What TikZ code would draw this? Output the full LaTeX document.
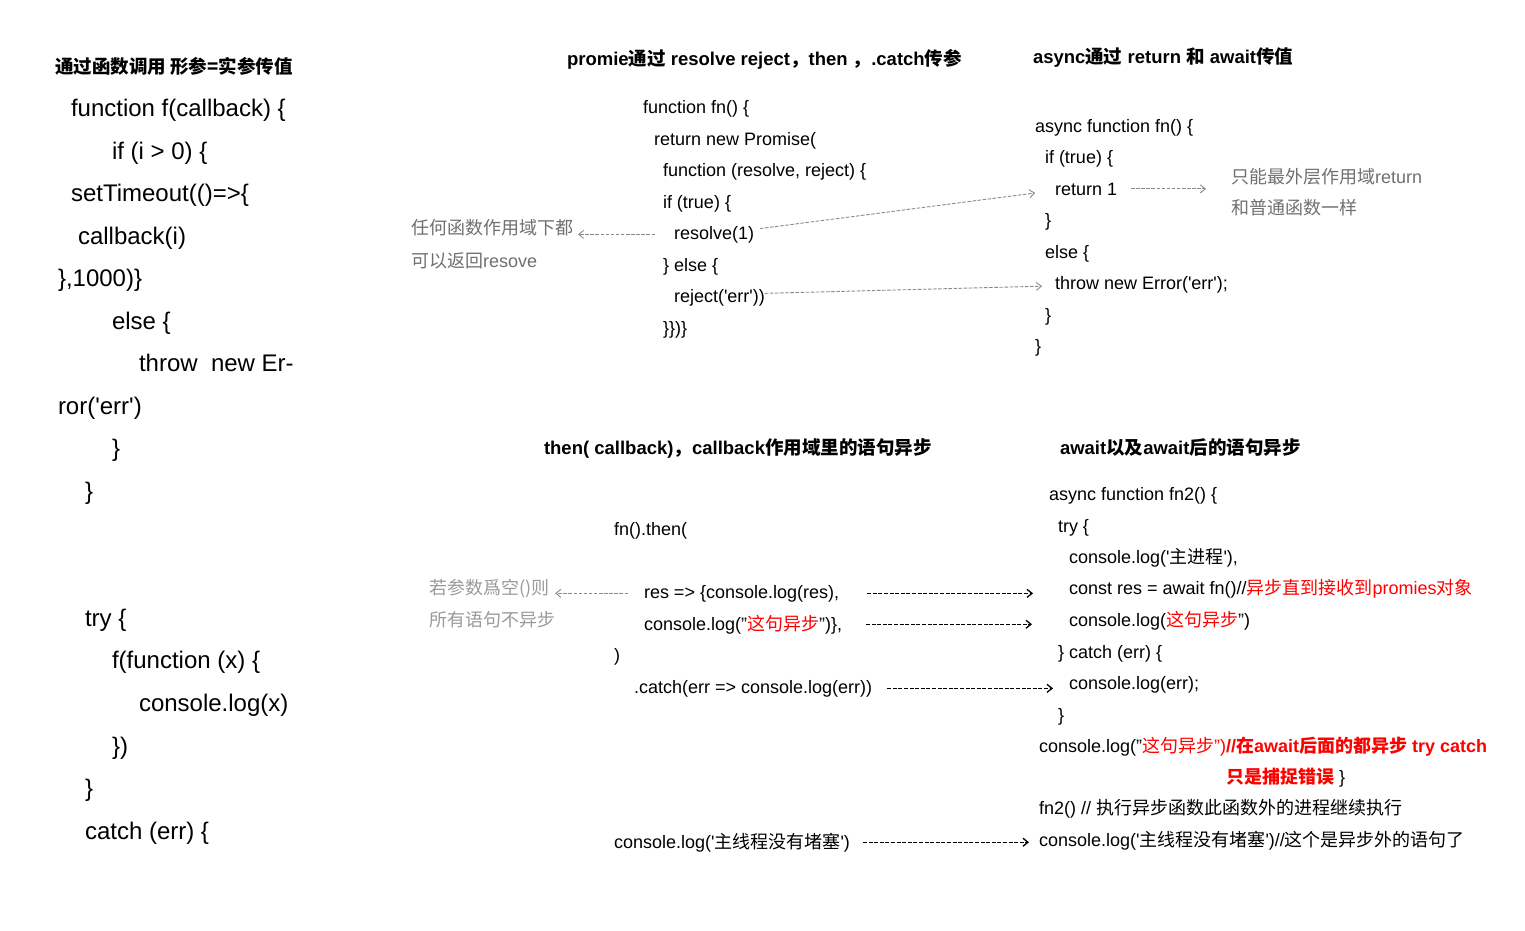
\documentclass[tikz,border=0pt]{standalone}
\usepackage{fontspec}
\newfontfamily\lat{Liberation Sans}
\newfontfamily\cjk{Noto Sans CJK SC}
\usetikzlibrary{arrows.meta}
\definecolor{notegray}{HTML}{707070}
\definecolor{notelight}{HTML}{9A9A9A}
\definecolor{linegray}{HTML}{8A8A8A}
\definecolor{codered}{HTML}{FF0000}
\newcommand{\zh}[1]{{\cjk #1}}
\newcommand{\rd}[1]{\textcolor{codered}{#1}}
\tikzset{
  txt/.style={anchor=base west, inner sep=0pt, outer sep=0pt, text=black},
  big/.style={txt, font={\lat\fontsize{24}{28}\selectfont}},
  code/.style={txt, font={\lat\fontsize{18}{22}\selectfont}},
  head/.style={txt, font={\lat\bfseries\fontsize{18.5}{22}\selectfont}},
  note/.style={txt, text=notegray, font={\lat\fontsize{18}{22}\selectfont}},
  notel/.style={txt, text=notelight, font={\lat\fontsize{18}{22}\selectfont}},
  grayarrow/.style={draw=linegray, line width=0.9pt, dash pattern=on 3.5pt off 1.6pt,
     -{Straight Barb[length=5pt,width=8pt,line width=0.9pt]}},
  blackarrow/.style={draw=black, line width=1.5pt, dash pattern=on 4pt off 1.6pt,
     -{Straight Barb[length=5pt,width=8pt,line width=1.3pt]}}
}
\begin{document}
\begin{tikzpicture}[x=1pt,y=-1pt]
\useasboundingbox (0,0) rectangle (1525,930);
\fill[white] (0,0) rectangle (1525,930);

% ---------- left column ----------
\node[head] (h1) at (55,73) {\zh{通过函数调用 形参=实参传值}};
\node[big] (l1) at (71,116) {function f(callback) \{};
\node[big] (l2) at (112,159) {if (i > 0) \{};
\node[big] (l3) at (71,201) {setTimeout(()=>\{};
\node[big] (l4) at (78,244) {callback(i)};
\node[big] (l5) at (58,286) {\},1000)\}};
\node[big] (l6) at (112,329) {else \{};
\node[big] (l7) at (139,371) {throw\ \ new Er-};
\node[big] (l8) at (58,414) {ror('err')};
\node[big] (l9) at (112,456) {\}};
\node[big] (l10) at (85,499) {\}};
\node[big] (l11) at (85,626) {try \{};
\node[big] (l12) at (112,668) {f(function (x) \{};
\node[big] (l13) at (139,711) {console.log(x)};
\node[big] (l14) at (112,754) {\})};
\node[big] (l15) at (85,796) {\}};
\node[big] (l16) at (85,839) {catch (err) \{};

% ---------- top middle ----------
\node[head] (h2) at (567,65.5) {promie\zh{通过} resolve reject\zh{，}then \zh{，}.catch\zh{传参}};
\node[code] (p1) at (643,113) {function fn() \{};
\node[code] (p2) at (654,145) {return new Promise(};
\node[code] (p3) at (663,176) {function (resolve, reject) \{};
\node[code] (p4) at (663,208) {if (true) \{};
\node[code] (resolve) at (674,239) {resolve(1)};
\node[code] (p6) at (663,271) {\} else \{};
\node[code] (reject) at (674,302) {reject('err'))};
\node[code] (p8) at (663,334) {\}\})\}};
\node[note] (n1) at (411,234) {\zh{任何函数作用域下都}};
\node[note] (n2) at (411,267) {\zh{可以返回}resove};

% ---------- top right ----------
\node[head] (h3) at (1033,63.5) {async\zh{通过} return \zh{和} await\zh{传值}};
\node[code] (a1) at (1035,132) {async function fn() \{};
\node[code] (a2) at (1045,163) {if (true) \{};
\node[code] (ret1) at (1055,195) {return 1};
\node[code] (a4) at (1045,226) {\}};
\node[code] (a5) at (1045,258) {else \{};
\node[code] (throw) at (1055,289) {throw new Error('err');};
\node[code] (a7) at (1045,321) {\}};
\node[code] (a8) at (1035,352) {\}};
\node[note] (n3) at (1231,183) {\zh{只能最外层作用域}return};
\node[note] (n4) at (1231,214) {\zh{和普通函数一样}};

% ---------- bottom middle ----------
\node[head] (h4) at (544,454.5) {then( callback)\zh{，}callback\zh{作用域里的语句异步}};
\node[code] (t1) at (614,535) {fn().then(};
\node[code] (resline) at (644,598) {res => \{console.log(res),};
\node[code] (logline) at (644,630) {console.log(”\rd{\zh{这句异步}}”)\},};
\node[code] (t4) at (614,661) {)};
\node[code] (catchline) at (634,693) {.catch(err => console.log(err))};
\node[code] (mainline) at (614,848) {console.log('\zh{主线程没有堵塞}')};
\node[notel] (n5) at (429,594) {\zh{若参数爲空()则}};
\node[notel] (n6) at (429,626) {\zh{所有语句不异步}};

% ---------- bottom right ----------
\node[head] (h5) at (1060,454.5) {await\zh{以及}await\zh{后的语句异步}};
\node[code] (b1) at (1049,500) {async function fn2() \{};
\node[code] (b2) at (1058,532) {try \{};
\node[code] (b3) at (1069,563) {console.log('\zh{主进程}'),};
\node[code] (constline) at (1069,594) {const res = await fn()//\rd{\zh{异步直到接收到}promies\zh{对象}}};
\node[code] (log2) at (1069,626) {console.log(\rd{\zh{这句异步}}”)};
\node[code] (b6) at (1058,658) {\} catch (err) \{};
\node[code] (err2) at (1069,689) {console.log(err);};
\node[code] (b8) at (1058,721) {\}};
\node[code] (b9) at (1039,752) {console.log(”\rd{\zh{这句异步}”)}\textcolor{codered}{\bfseries //\zh{在}await\zh{后面的都异步} try catch}};
\node[code] (b10) at (1226,783) {\textcolor{codered}{\bfseries\zh{只是捕捉错误}} \}};
\node[code] (b11) at (1039,814) {fn2() // \zh{执行异步函数此函数外的进程继续执行}};
\node[code] (main2) at (1039,846) {console.log('\zh{主线程没有堵塞}')//\zh{这个是异步外的语句了}};

% ---------- gray connectors ----------
\draw[grayarrow, shorten <=19pt, shorten >=5pt] (resolve.west) -- (resolve.west -| n1.east);
\draw[grayarrow, shorten <=6pt, shorten >=20pt] ([yshift=5pt]resolve.east) -- ([yshift=-1.5pt]ret1.west);
\draw[grayarrow, shorten <=0pt, shorten >=13pt] ([yshift=4pt]reject.east) -- ([yshift=-1.5pt]throw.west);
\draw[grayarrow, shorten <=14pt, shorten >=25pt] (ret1.east) -- (ret1.east -| n3.west);
\draw[grayarrow, shorten <=16pt, shorten >=6pt] (resline.west) -- (resline.west -| n5.east);

% ---------- black connectors ----------
\draw[blackarrow, shorten <=28pt, shorten >=36pt] (resline.east) -- (resline.east -| constline.west);
\draw[blackarrow, shorten <=24pt, shorten >=37pt] (logline.east) -- (logline.east -| log2.west);
\draw[blackarrow, shorten <=15pt, shorten >=16pt] (catchline.east) -- (catchline.east -| err2.west);
\draw[blackarrow, shorten <=13pt, shorten >=10pt] (mainline.east) -- (mainline.east -| main2.west);
\end{tikzpicture}
\end{document}
